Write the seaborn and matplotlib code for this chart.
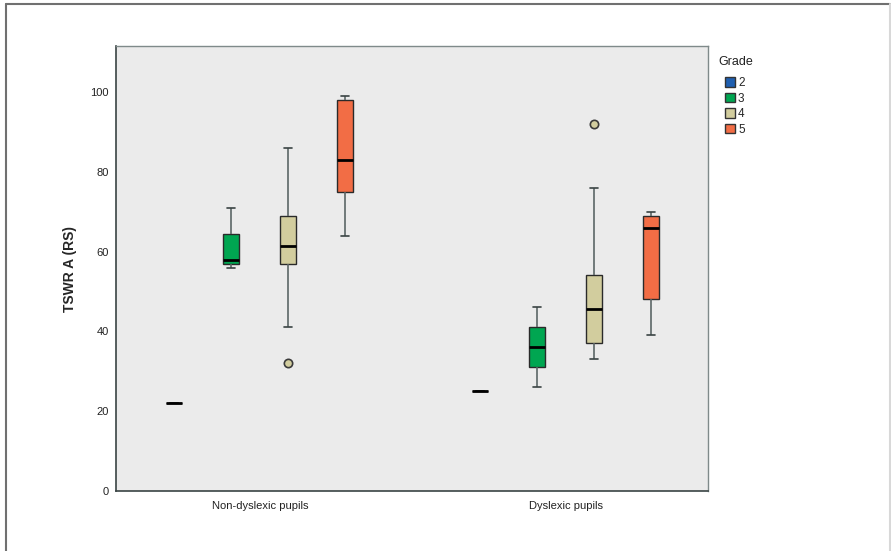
import matplotlib
matplotlib.use("Agg")
import matplotlib.pyplot as plt
import numpy as np
import pandas as pd
import seaborn as sns
from matplotlib.lines import Line2D
from matplotlib.patches import Rectangle

sns.set_style("white")
plt.rcParams["font.family"] = ["Liberation Sans", "DejaVu Sans"]

groups = ["Non-dyslexic pupils", "Dyslexic pupils"]
grades = ["2", "3", "4", "5"]
grade_colors = ["#1f5fb0", "#00a651", "#d2cd9e", "#f26d45"]

# values: whisker ends, quartiles, median, outliers
nondys_g2 = [22]
nondys_g3 = [56, 57, 58, 64.5, 71]
nondys_g4 = [32, 41, 57, 57, 61.5, 69, 69, 86, 86]
nondys_g5 = [64, 75, 83, 98, 99]
dys_g2 = [25]
dys_g3 = [26, 31, 36, 41, 46]
dys_g4 = [33, 33, 37, 37, 45.5, 54, 54, 76, 92]
dys_g5 = [39, 48, 66, 69, 70]

samples = {
    ("Non-dyslexic pupils", "2"): nondys_g2,
    ("Non-dyslexic pupils", "3"): nondys_g3,
    ("Non-dyslexic pupils", "4"): nondys_g4,
    ("Non-dyslexic pupils", "5"): nondys_g5,
    ("Dyslexic pupils", "2"): dys_g2,
    ("Dyslexic pupils", "3"): dys_g3,
    ("Dyslexic pupils", "4"): dys_g4,
    ("Dyslexic pupils", "5"): dys_g5,
}
rows = [(g, gr, v) for (g, gr), vals in samples.items() for v in vals]
df = pd.DataFrame(rows, columns=["group", "grade", "value"])

fig = plt.figure(figsize=(8.91, 5.51), dpi=100)
ax = fig.add_axes([116 / 891, 1 - 491 / 551, (708 - 116) / 891, (491 - 46) / 551])
ax.set_facecolor("#ebebeb")

sns.boxplot(
    data=df, x="group", y="value", hue="grade",
    order=groups, hue_order=grades,
    palette=dict(zip(grades, grade_colors)),
    width=0.745, gap=0.72, linecolor="#2a2a2a", linewidth=1,
    whis=1.5, saturation=1,
    whiskerprops=dict(color="#5c6666", linewidth=1.2),
    capprops=dict(color="#3a4444", linewidth=1.2),
    medianprops=dict(color="black", linewidth=2),
    # only grade 4 has outliers, so the tan fill is used for them
    flierprops=dict(marker="o", markersize=6, markerfacecolor=grade_colors[2],
                    markeredgecolor="#3a3a3a", markeredgewidth=1.2),
    ax=ax,
)

ax.set_xlim(-0.47, 1.465)
ax.set_ylim(0, 111.5)
ax.set_yticks([0, 20, 40, 60, 80, 100])
ax.set_xlabel("")
ax.set_ylabel("TSWR A (RS)", fontsize=10, fontweight="bold", labelpad=10)
ax.tick_params(axis="both", labelsize=8, colors="#222222", direction="out",
               length=4, width=1, pad=1)
ax.tick_params(axis="x", length=5, pad=2)
for side in ["left", "bottom"]:
    ax.spines[side].set_color("#3a4444")
    ax.spines[side].set_linewidth(1.2)
for side in ["top", "right"]:
    ax.spines[side].set_color("#7f8a8a")
    ax.spines[side].set_linewidth(1)

ax.get_legend().remove()
handles = [Rectangle((0, 0), 1, 1, facecolor=c, edgecolor="#333333", linewidth=1)
           for c in grade_colors]
fig.text(718 / 891, 1 - 62 / 551, "Grade", fontsize=9, va="center", ha="left", color="#222222")
fig.legend(handles, grades, loc="upper left", bbox_to_anchor=(725 / 891, 1 - 77 / 551),
           frameon=False, fontsize=8.5, handlelength=0.85, handleheight=0.85,
           handletextpad=0.25, labelspacing=0.3, borderpad=0, borderaxespad=0)

# outer frame of the exported chart: grey left/top, faint right
fig.add_artist(Line2D([6 / 891, 6 / 891], [0, 1 - 4 / 551], transform=fig.transFigure,
                      color="#707070", linewidth=1.5))
fig.add_artist(Line2D([6 / 891, 890 / 891], [1 - 4 / 551, 1 - 4 / 551], transform=fig.transFigure,
                      color="#707070", linewidth=1.5))
fig.add_artist(Line2D([890 / 891, 890 / 891], [0, 1 - 4 / 551], transform=fig.transFigure,
                      color="#d8d8d8", linewidth=1.5))

fig.savefig("out.png", dpi=100)
